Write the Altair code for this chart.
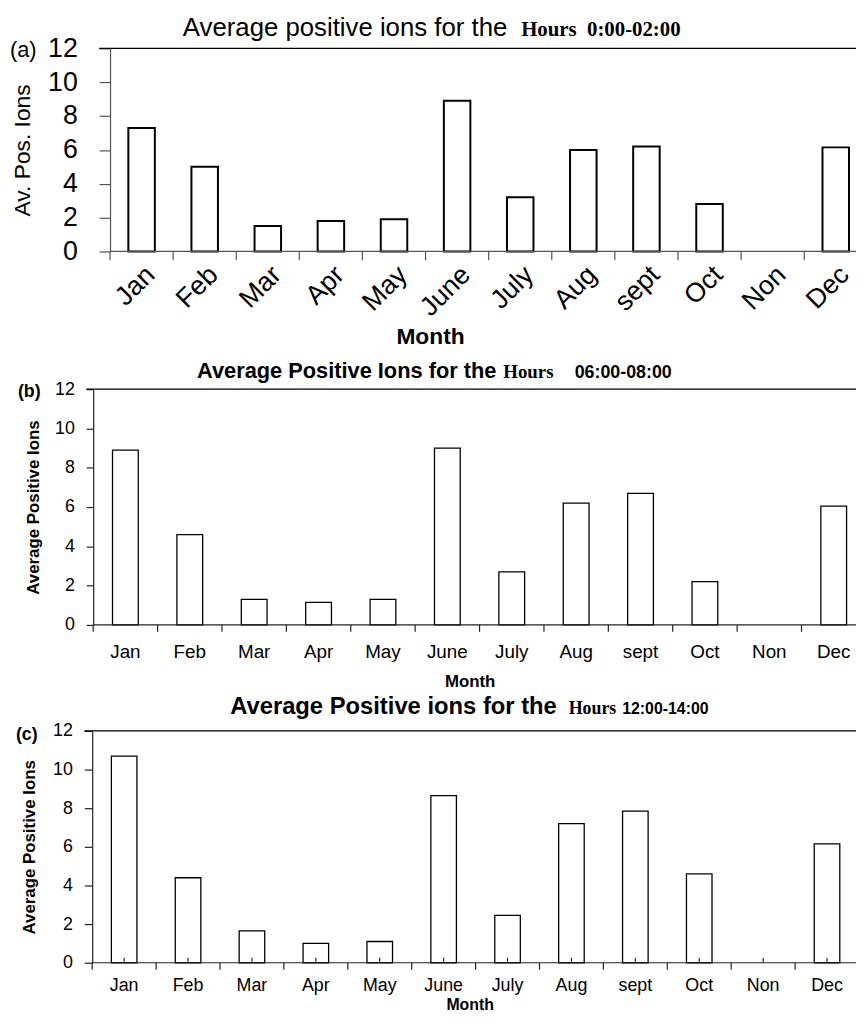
import altair as alt
import pandas as pd

months = ["Jan", "Feb", "Mar", "Apr", "May", "June", "July", "Aug", "sept", "Oct", "Non", "Dec"]
ions_0000_0200 = [7.3, 5.0, 1.5, 1.8, 1.9, 8.9, 3.2, 6.0, 6.2, 2.8, 0.0, 6.15]
ions_0600_0800 = [8.9, 4.6, 1.3, 1.15, 1.3, 9.0, 2.7, 6.2, 6.7, 2.2, 0.0, 6.05]
ions_1200_1400 = [10.7, 4.4, 1.65, 1.0, 1.1, 8.65, 2.45, 7.2, 7.85, 4.6, 0.0, 6.15]
y_ticks = [0, 2, 4, 6, 8, 10, 12]

SANS = "Liberation Sans"
SERIF = "Liberation Serif"
CW, CH = 856, 1007   # whole drawing area (page margin 8px, padding 0)


def one(text):
    return alt.Chart(pd.DataFrame({"t": [text]}))


def panel(vals, c):
    ax, y0, y12 = c["ax"], c["y0"], c["y12"]
    df = pd.DataFrame({"Month": months, "v": vals})
    xscale = alt.Scale(domain=months, range=[ax, ax + 12 * c["step"]], paddingInner=0, paddingOuter=0)
    yscale = alt.Scale(domain=[0, 12], range=[y0, y12], nice=False, zero=True)

    xaxis = alt.Axis(
        orient="bottom", offset=y0 - CH,
        title="Month", domain=False, ticks=False, tickSize=0,
        labelAngle=c["langle"], labelAlign=c["lalign"], labelBaseline="top",
        labelPadding=c["lpad"], labelFont=SANS, labelFontSize=c["lfs"], labelColor="#000",
        titleFont=SANS, titleFontSize=c["tfs"], titleFontWeight="bold", titleColor="#000",
        titleX=c["mx"], titleY=c["my"], titleBaseline="middle", titleAlign="center",
        labelOverlap=False,
    )
    yaxis = alt.Axis(
        orient="left", offset=-ax,
        title=c["ytitle"], values=y_ticks, grid=False, labelOverlap=False,
        domainColor=c["acol"], domainWidth=1.2,
        tickColor=c["acol"], tickSize=c["ytick"], tickWidth=1.2, labelPadding=c["ypad"],
        labelFont=SANS, labelFontSize=c["yfs"], labelColor="#000",
        titleFont=SANS, titleFontSize=c["ytfs"], titleFontWeight=c["ytw"], titleColor="#000",
        titleX=c["ytx"], titleY=(y0 + y12) / 2, titleAngle=270, titleBaseline="middle",
        titleAlign="center",
    )

    bars = alt.Chart(df).transform_filter("datum.v > 0").mark_bar(
        width=alt.RelativeBandSize(c["band"]), fill="white", stroke="black", strokeWidth=c["sw"]
    ).encode(
        x=alt.X("Month:N", sort=months, scale=xscale, axis=xaxis),
        y=alt.Y("v:Q", scale=yscale, axis=yaxis),
    )
    xticks = alt.Chart(df).mark_rule(color=c["acol"], strokeWidth=1.2).encode(
        x=alt.X("Month:N", sort=months, bandPosition=0),
        y=alt.value(y0), y2=alt.value(y0 + c["xtick"]),
    )
    layers = [bars, xticks]
    if c.get("inner"):
        inner = alt.Chart(df).mark_rule(color="#000", strokeWidth=1).encode(
            x=alt.X("Month:N", sort=months, bandPosition=0.5),
            y=alt.value(y0), y2=alt.value(y0 - 5),
        )
        layers.append(inner)
    base = one("base").mark_rule(color=c["acol"], strokeWidth=1.2).encode(
        x=alt.value(ax), x2=alt.value(CW), y=alt.value(y0)
    )
    top = one("top").mark_rule(color="#000", strokeWidth=1.3).encode(
        x=alt.value(ax - c["ytick"]), x2=alt.value(CW), y=alt.value(y12)
    )
    layers += [base, top]
    for (txt, font, fs, fw, align, xpos) in c["title"]:
        layers.append(
            one(txt).mark_text(font=font, fontSize=fs, fontWeight=fw, align=align,
                               baseline="alphabetic", color="#000").encode(
                text="t:N", x=alt.value(xpos), y=alt.value(c["tby"])
            )
        )
    layers.append(
        one(c["plabel"]).mark_text(font=SANS, fontSize=c["pfs"], fontWeight=c["pfw"], align="left",
                                   baseline="middle", color="#000").encode(
            text="t:N", x=alt.value(c["px"]), y=alt.value(c["py"])
        )
    )
    return alt.layer(*layers)


# all positions are in drawing-area pixels (page position minus 8)
cfg_a = dict(ax=103, y0=241, y12=36, step=63.7, band=0.42, sw=2, acol="#555",
             langle=-45, lalign="right", lpad=10, lfs=27, tfs=23, mx=426, my=86,
             ytitle="Av. Pos. Ions", ytick=11, ypad=22, yfs=27, ytfs=23, ytw="normal", ytx=-88,
             xtick=9,
             title=[("Average positive ions for the", SANS, 26, "normal", "right", 504),
                    ("Hours\u00a0\u00a00:00-02:00", SERIF, 21, "bold", "left", 518)],
             tby=24, plabel="(a)", pfs=22, pfw="normal", px=2, py=38)
cfg_b = dict(ax=86, y0=618, y12=380, step=65, band=0.4, sw=1.3, acol="#222",
             langle=0, lalign="center", lpad=18, lfs=19, tfs=17, mx=466, my=57,
             ytitle="Average Positive Ions", ytick=7, ypad=12, yfs=18, ytfs=17, ytw="bold", ytx=-60,
             xtick=7,
             title=[("Average Positive Ions for the", SANS, 22, "bold", "right", 493),
                    ("Hours", SERIF, 19, "bold", "left", 500),
                    ("06:00-08:00", SANS, 18, "bold", "left", 572)],
             tby=369, plabel="(b)", pfs=18, pfw="bold", px=10, py=383)
cfg_c = dict(ax=85, y0=959, y12=725, step=64.5, band=0.4, sw=1.3, acol="#222", inner=True,
             langle=0, lalign="center", lpad=14, lfs=18, tfs=16, mx=466, my=42,
             ytitle="Average Positive Ions", ytick=8, ypad=12, yfs=18, ytfs=17, ytw="bold", ytx=-63,
             xtick=7,
             title=[("Average Positive ions for the", SANS, 24, "bold", "right", 554),
                    ("Hours", SERIF, 18, "bold", "left", 566),
                    ("12:00-14:00", SANS, 16, "bold", "left", 620)],
             tby=708, plabel="(c)", pfs=18, pfw="bold", px=8, py=729)

chart = alt.layer(
    panel(ions_0000_0200, cfg_a),
    panel(ions_0600_0800, cfg_b),
    panel(ions_1200_1400, cfg_c),
).resolve_scale(x="independent", y="independent").resolve_axis(
    x="independent", y="independent"
).properties(
    width=CW, height=CH, padding=0, autosize=alt.AutoSizeParams(type="none")
).configure_view(stroke=None)

chart.save("out.html", embed_options={"renderer": "svg", "actions": False})
